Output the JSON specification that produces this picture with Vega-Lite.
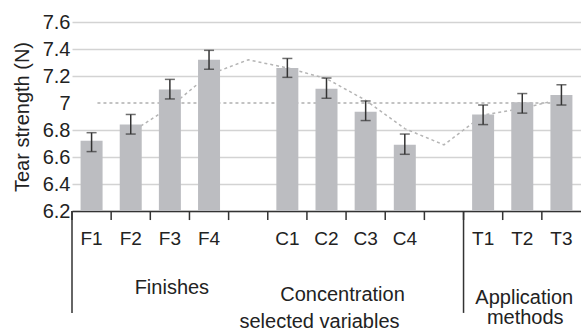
{
  "$schema": "https://vega.github.io/schema/vega-lite/v6.json",
  "width": 509,
  "height": 189,
  "autosize": {"type": "none"},
  "padding": {"left": 72, "top": 22, "right": 0, "bottom": 120},
  "background": "white",
  "config": {"view": {"stroke": null}, "font": "Liberation Sans", "axisY": {"labelOverlap": false, "tickCount": 8}},
  "data": {"values": [
    {"cat": "F1", "value": 6.72, "lo": 6.64, "hi": 6.78},
    {"cat": "F2", "value": 6.84, "lo": 6.77, "hi": 6.915, "trend": 6.78},
    {"cat": "F3", "value": 7.10, "lo": 7.03, "hi": 7.175, "trend": 6.97},
    {"cat": "F4", "value": 7.32, "lo": 7.25, "hi": 7.39, "trend": 7.21},
    {"cat": "g1", "trend": 7.32},
    {"cat": "C1", "value": 7.26, "lo": 7.19, "hi": 7.33, "trend": 7.26},
    {"cat": "C2", "value": 7.105, "lo": 7.035, "hi": 7.185, "trend": 7.18},
    {"cat": "C3", "value": 6.935, "lo": 6.87, "hi": 7.015, "trend": 7.02},
    {"cat": "C4", "value": 6.69, "lo": 6.62, "hi": 6.77, "trend": 6.81},
    {"cat": "g2", "trend": 6.69},
    {"cat": "T1", "value": 6.915, "lo": 6.84, "hi": 6.985, "trend": 6.91},
    {"cat": "T2", "value": 7.005, "lo": 6.925, "hi": 7.07, "trend": 6.96},
    {"cat": "T3", "value": 7.06, "lo": 6.985, "hi": 7.135, "trend": 7.03}
  ]},
  "encoding": {
    "x": {
      "field": "cat",
      "type": "nominal",
      "scale": {"domain": ["F1","F2","F3","F4","g1","C1","C2","C3","C4","g2","T1","T2","T3"], "paddingInner": 0, "paddingOuter": 0},
      "axis": {
        "title": null,
        "labelExpr": "datum.value[0] === 'g' ? '' : datum.label",
        "labelAngle": 0,
        "labelFont": "Liberation Sans",
        "labelFontSize": 19,
        "labelColor": "#222",
        "labelPadding": 18,
        "ticks": false,
        "domainColor": "#333",
        "domainWidth": 1.5,
        "grid": false
      }
    }
  },
  "layer": [
    {
      "data": {"values": [{"cat": "F1", "ref": 7}, {"cat": "T3", "ref": 7}]},
      "mark": {"type": "line", "color": "#b0b0b0", "strokeDash": [3, 3], "strokeWidth": 1.5},
      "encoding": {
        "x": {"field": "cat", "type": "nominal", "bandPosition": 0.65},
        "y": {
          "field": "ref",
          "type": "quantitative",
          "scale": {"domain": [6.2, 7.6], "nice": false, "zero": false},
          "axis": {
            "title": "Tear strength (N)",
            "values": [6.2, 6.4, 6.6, 6.8, 7.0, 7.2, 7.4, 7.6],
            "tickCount": 8,
            "labelExpr": "toString(round(datum.value * 10) / 10)",
            "labelOverlap": false,
            "labelFlush": false,
            "labelBound": false,
            "domain": false,
            "ticks": false,
            "labelPadding": 2,
            "labelFont": "Liberation Sans",
            "labelFontSize": 20,
            "labelColor": "#222",
            "grid": true,
            "gridColor": "#d3d3d3",
            "gridWidth": 1.5,
            "gridOpacity": {"condition": {"test": "datum.value === 7", "value": 0}, "value": 1},
            "titleFont": "Liberation Sans",
            "titleFontSize": 20,
            "titleFontWeight": "normal",
            "titleColor": "#222",
            "titlePadding": 10
          }
        }
      }
    },
    {
      "mark": {"type": "line", "color": "#b5b5b5", "strokeDash": [3, 3], "strokeWidth": 1.5},
      "encoding": {"y": {"field": "trend", "type": "quantitative"}}
    },
    {
      "mark": {"type": "bar", "color": "#bcbdc1", "size": 22},
      "encoding": {"y": {"field": "value", "type": "quantitative"}, "y2": {"datum": 6.2}}
    },
    {
      "mark": {"type": "rule", "color": "#333", "strokeWidth": 1.5},
      "encoding": {"y": {"field": "lo", "type": "quantitative"}, "y2": {"field": "hi"}}
    },
    {
      "mark": {"type": "tick", "color": "#333", "size": 10, "thickness": 1.5},
      "encoding": {"y": {"field": "lo", "type": "quantitative"}}
    },
    {
      "mark": {"type": "tick", "color": "#333", "size": 10, "thickness": 1.5},
      "encoding": {"y": {"field": "hi", "type": "quantitative"}}
    },
    {
      "mark": {"type": "rule", "color": "#333", "strokeWidth": 1.5, "clip": false},
      "encoding": {
        "x": {"field": "cat", "type": "nominal", "bandPosition": 0},
        "y": {"datum": 6.2},
        "y2": {"datum": 6.133}
      }
    },
    {
      "data": {"values": [{"cat": "F1"}, {"cat": "T1"}]},
      "mark": {"type": "rule", "color": "#333", "strokeWidth": 1.5, "clip": false},
      "encoding": {
        "x": {"field": "cat", "type": "nominal", "bandPosition": 0},
        "y": {"datum": 6.2},
        "y2": {"datum": 5.445}
      }
    },
    {
      "data": {"values": [{"cat": "F3", "label": "Finishes"}]},
      "mark": {"type": "text", "fontSize": 20, "color": "#222", "dx": 2, "dy": 77, "baseline": "middle"},
      "encoding": {"y": {"datum": 6.2}, "text": {"field": "label"}}
    },
    {
      "data": {"values": [{"cat": "C2", "label": "Concentration"}]},
      "mark": {"type": "text", "fontSize": 20, "color": "#222", "dx": 16, "dy": 84, "baseline": "middle"},
      "encoding": {"y": {"datum": 6.2}, "text": {"field": "label"}}
    },
    {
      "data": {"values": [{"cat": "C2", "label": "selected variables"}]},
      "mark": {"type": "text", "fontSize": 20, "color": "#222", "dx": -7, "dy": 111, "baseline": "middle"},
      "encoding": {"y": {"datum": 6.2}, "text": {"field": "label"}}
    },
    {
      "data": {"values": [{"cat": "T2", "label": "Application"}]},
      "mark": {"type": "text", "fontSize": 20, "color": "#222", "dx": 2, "dy": 87, "baseline": "middle"},
      "encoding": {"y": {"datum": 6.2}, "text": {"field": "label"}}
    },
    {
      "data": {"values": [{"cat": "T2", "label": "methods"}]},
      "mark": {"type": "text", "fontSize": 20, "color": "#222", "dx": 3, "dy": 107, "baseline": "middle"},
      "encoding": {"y": {"datum": 6.2}, "text": {"field": "label"}}
    }
  ]
}
